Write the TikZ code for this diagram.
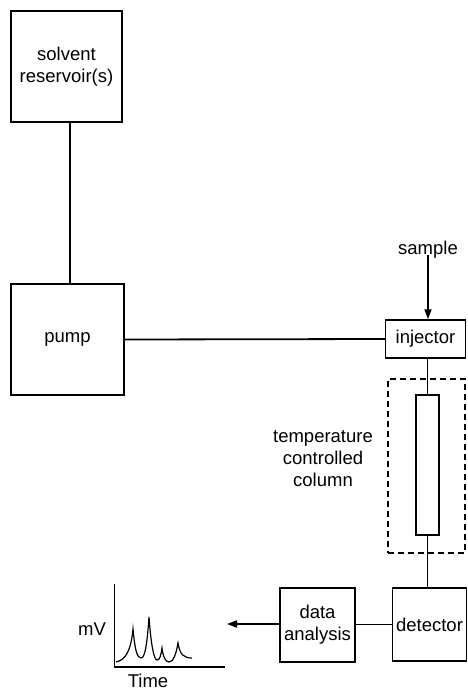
\documentclass[tikz,border=0pt]{standalone}
\usepackage{fontspec}
\setmainfont{Liberation Sans}
\usetikzlibrary{arrows.meta}
\begin{document}
\begin{tikzpicture}[x=1pt,y=-1pt,
  box/.style={draw, line width=1.9pt, inner sep=0pt, align=center, font=\fontsize{18.5}{22}\selectfont},
  conn/.style={line width=1.8pt},
  arr/.style={line width=1.8pt, -{Triangle[length=10pt,width=7pt]}},
  lbl/.style={inner sep=0pt, align=center, font=\fontsize{18.5}{22}\selectfont},
  trace/.style={line width=1.2pt}]
\useasboundingbox (0,0) rectangle (467,690);
% boxes
\node[box, minimum width=111pt, minimum height=111pt] (solvent) at (66.5,66.5) {solvent\\reservoir(s)};
\node[box, minimum width=113pt, minimum height=111pt] (pump) at (67.5,339.5) {pump};
\node[box, line width=1.5pt, minimum width=80pt, minimum height=38pt] (injector) at (425.5,339) {injector};
\node[draw, dashed, dash pattern=on 6pt off 4pt, line width=1.5pt, minimum width=77pt, minimum height=174pt, inner sep=0pt] (oven) at (426.5,466) {};
\node[draw, line width=1.5pt, minimum width=23pt, minimum height=140pt, inner sep=0pt] (column) at (427.5,465) {};
\node[box, minimum width=74pt, minimum height=73pt] (detector) at (429.5,624.5) {detector};
\node[box, minimum width=75pt, minimum height=74pt] (analysis) at (317.5,625) {data\\analysis};
% labels
\node[lbl] (sample) at (428,250) {sample};
\node[lbl] (temp) at (323,459) {temperature\\controlled\\column};
% connectors
\draw[conn] (solvent.south -| 70,0) -- (pump.north -| 70,0);
\draw[conn] (pump.east) -- (injector.west);
\coordinate (sstart) at ([yshift=4pt]sample.south);
\draw[arr] (sstart) -- (sample.south |- injector.north);
\draw[conn] (injector.south -| column.north) -- (column.north);
\draw[conn] (column.south) -- (column.south |- detector.north);
\draw[conn] (detector.west) -- (analysis.east |- detector.west);
\coordinate (arrend) at (227,624);
\draw[arr] (analysis.west |- arrend) -- (arrend);
% chromatogram
\coordinate (ytop) at (114.5,584);
\coordinate (origin) at (114.5,667);
\coordinate (xend) at (225,667);
\draw[line width=1.8pt] (ytop) -- (origin) -- (xend);
\node[lbl] (mv) at (92,629) {mV};
\node[lbl] (time) at (148,681) {Time};
\draw[trace] (116,662) .. controls (126,660) and (131,650) .. (133,629)
  .. controls (135,650) and (137,658) .. (141,658)
  .. controls (145,658) and (147,645) .. (149,617)
  .. controls (151,645) and (154,660) .. (157,660)
  .. controls (160,660) and (161,655) .. (162,648)
  .. controls (163,656) and (165,662) .. (169,662)
  .. controls (173,662) and (176,655) .. (178,643)
  .. controls (180,655) and (184,658) .. (192,658);
\end{tikzpicture}
\end{document}
